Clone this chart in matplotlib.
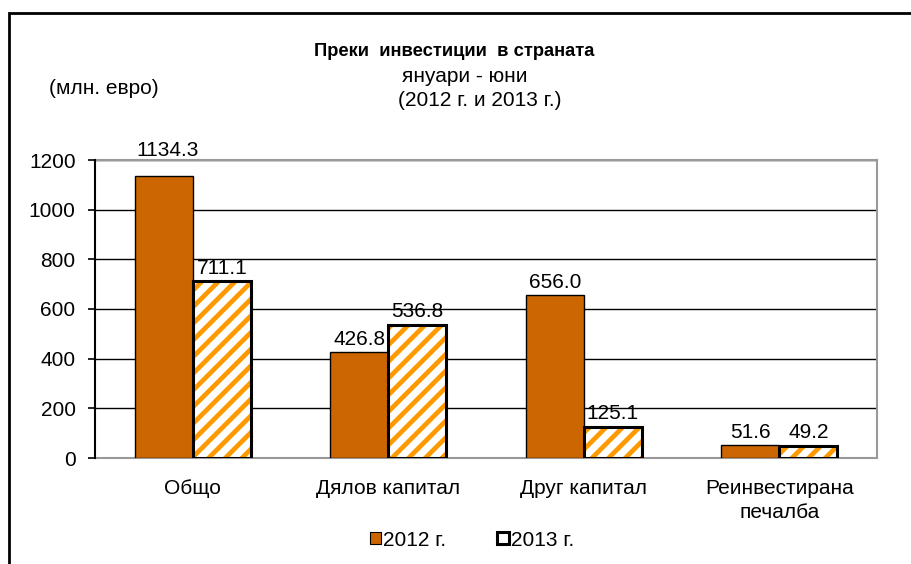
import matplotlib
matplotlib.use("Agg")
import matplotlib.pyplot as plt
import numpy as np
from matplotlib.patches import Rectangle, Patch
import matplotlib as mpl

mpl.rcParams['hatch.linewidth'] = 3.4
plt.rcParams['font.family'] = ['Liberation Sans', 'DejaVu Sans']

categories = ["Общо", "Дялов капитал", "Друг капитал", "Реинвестирана\nпечалба"]
values_2012 = [1134.3, 426.8, 656.0, 51.6]
values_2013 = [711.1, 536.8, 125.1, 49.2]
series_labels = ["2012 г.", "2013 г."]
yticks = [0, 200, 400, 600, 800, 1000, 1200]

FS = 15
W, H = 911, 564
fig = plt.figure(figsize=(W/100, H/100), dpi=100)
ax = fig.add_axes([95/W, 1 - 458/H, (877-95)/W, (458-160)/H])

x = np.arange(len(categories))
bw = 0.297
b1 = ax.bar(x - bw/2, values_2012, bw, color='#CC6600', edgecolor='black', linewidth=1.0, zorder=3)
b2 = ax.bar(x + bw/2, values_2013, bw, color='white', edgecolor='#FF9900', hatch='//', linewidth=0, zorder=3)
for r in b2:
    ax.add_patch(Rectangle((r.get_x(), 0), r.get_width(), r.get_height(), fill=False,
                           edgecolor='black', linewidth=2.2, zorder=4))

# label gaps (points) above bar tops
gap12 = [12, 2.5, 2.5, 2.5]
gap13 = [2.5, 2.5, 2.5, 2.5]
dx12 = [3, 0, 0, 0]
for xi, v, g, d in zip(x - bw/2, values_2012, gap12, dx12):
    ax.annotate(f"{v:.1f}", (xi, v), xytext=(d, g), textcoords='offset points',
                ha='center', va='bottom', fontsize=FS, annotation_clip=False)
for xi, v, g in zip(x + bw/2, values_2013, gap13):
    ax.annotate(f"{v:.1f}", (xi, v), xytext=(0, g), textcoords='offset points',
                ha='center', va='bottom', fontsize=FS, annotation_clip=False)

ax.set_xlim(-0.5, len(categories) - 0.5)
ax.set_ylim(0, 1200)
ax.set_yticks(yticks)
ax.set_yticklabels([str(t) for t in yticks], fontsize=FS)
ax.yaxis.grid(True, color='black', linewidth=1.0, zorder=0)
ax.set_axisbelow(True)
ax.set_xticks(x)
ax.set_xticklabels(categories, fontsize=FS, linespacing=1.35)
ax.tick_params(axis='x', length=0, pad=15)
ax.tick_params(axis='y', length=5, width=1.2, direction='out', pad=9)
for s in ['top', 'right', 'bottom']:
    ax.spines[s].set_color('#999999')
    ax.spines[s].set_linewidth(1.5)
ax.spines['left'].set_color('black')
ax.spines['left'].set_linewidth(1.5)
ax.spines['left'].set_zorder(5)

# Legend
h1 = Patch(facecolor='#CC6600', edgecolor='black', linewidth=0.8)
h2 = Patch(facecolor='white', edgecolor='black', linewidth=2.2)
fig.legend([h1, h2], series_labels, loc='center', bbox_to_anchor=(472/W, 1 - 540/H),
           ncol=2, frameon=False, fontsize=FS, handlelength=0.55, handleheight=0.55,
           handletextpad=0.1, columnspacing=2.45)

# Titles
fig.text(454/W, 1 - 52/H, "Преки  инвестиции  в страната", ha='center', va='center',
         fontsize=13.2, fontweight='bold')
fig.text(465/W, 1 - 76/H, "януари - юни", ha='center', va='center', fontsize=FS)
fig.text(480/W, 1 - 100/H, "(2012 г. и 2013 г.)", ha='center', va='center', fontsize=FS)
fig.text(104/W, 1 - 88/H, "(млн. евро)", ha='center', va='center', fontsize=FS)

# Outer chart border
fig.patches.append(Rectangle((9/W, -0.1), 1.2, 1 - 13/H + 0.1, transform=fig.transFigure,
                             fill=False, edgecolor='black', linewidth=2.0))

fig.savefig("out.png", dpi=100)
